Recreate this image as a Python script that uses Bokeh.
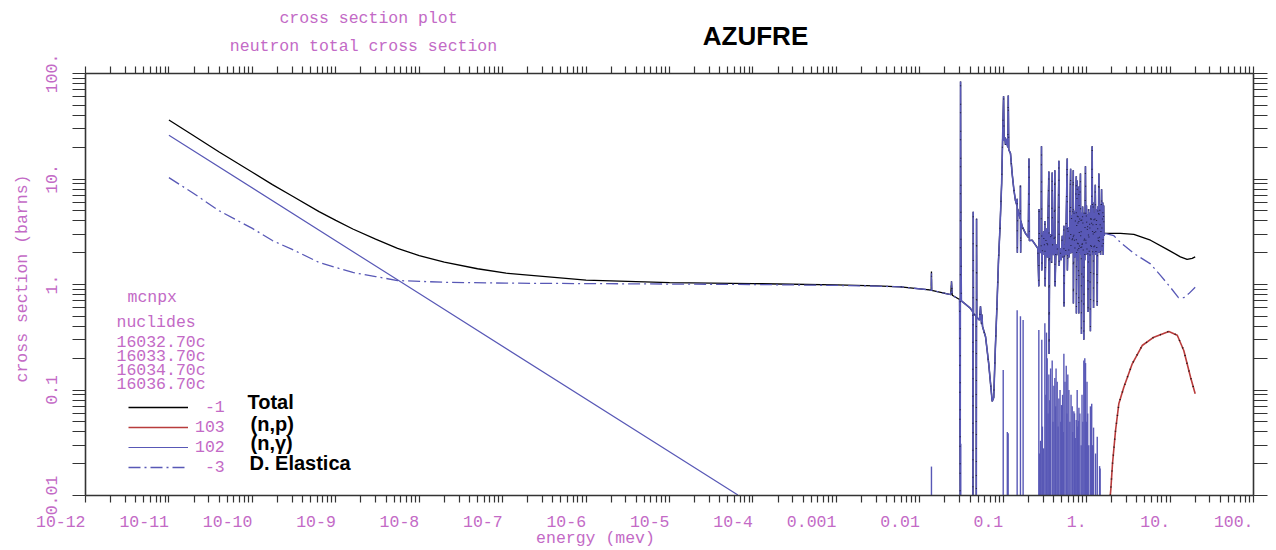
import math
from bokeh.plotting import figure
from bokeh.models import FixedTicker, LogAxis, Label, Legend, LegendItem, CustomJSTickFormatter
from bokeh.embed import file_html
from bokeh.resources import INLINE

# ---------------- data (energy in MeV, cross section in barns) ----------------
# smooth low-energy part of the total (-1) curve
total_low_E = [1e-11, 1.9e-11, 4e-11, 1e-10, 1.74e-10, 3e-10, 6.3e-10, 1e-9, 1.6e-9, 3e-9, 5.5e-9, 1e-8,
               2e-8, 5e-8, 1.1e-7, 1e-6, 1e-5, 1e-4, 1e-3, 3e-3]
total_low_xs = [36.3, 26.3, 18.0, 11.6, 8.84, 6.9, 4.9, 4.05, 3.36, 2.69, 2.2, 1.88,
                1.63, 1.41, 1.28, 1.1, 1.04, 1.02, 0.99, 0.97]
# smooth low-energy part of the elastic (-3) curve
elastic_low_E = [1e-11, 1.9e-11, 4e-11, 1e-10, 1.74e-10, 3e-10, 6.3e-10, 1e-9, 1.6e-9, 3e-9, 5.5e-9, 2e-8,
                 1.1e-7, 1e-6, 1e-5, 1e-4, 1e-3, 3e-3]
elastic_low_xs = [10.3, 7.45, 5.0, 3.4, 2.61, 2.15, 1.62, 1.45, 1.30, 1.19, 1.09, 1.05,
                  1.03, 1.02, 1.01, 1.0, 0.98, 0.965]
# resolved-resonance region, where the total and elastic curves coincide in the picture
res_E = [0.0059, 0.0130, 0.0137, 0.0138, 0.0139, 0.0235, 0.0240, 0.0245, 0.0300,
         0.0305, 0.0308, 0.0311, 0.0315, 0.0400,
         0.0432, 0.0434, 0.0437, 0.0440, 0.0474, 0.0476, 0.0479, 0.0482,
         0.0520, 0.0534, 0.0550, 0.0556, 0.0565,
         0.0614, 0.0669, 0.0738, 0.0770, 0.0803, 0.0841, 0.0878, 0.0917, 0.0958, 0.0985,
         0.1010, 0.1025, 0.1045, 0.1065, 0.1085, 0.1105, 0.1135, 0.1150, 0.1165, 0.1222, 0.1279, 0.1340, 0.1402,
         0.1460, 0.1469, 0.1478, 0.1490, 0.1538, 0.1600, 0.1609, 0.1618, 0.1630, 0.1686, 0.1849,
         0.2000, 0.2035, 0.2060, 0.2223, 0.2600, 0.2673, 0.2690, 0.2720,
         0.2850, 0.2876, 0.2900, 0.2960, 0.3050, 0.3100, 0.3156, 0.3180, 0.3250, 0.3320, 0.3380,
         0.3524, 0.3550, 0.3600, 0.3700, 0.3800, 0.3864, 0.3900, 0.4000, 0.4080,
         0.4158, 0.4180, 0.4300, 0.4400, 0.4550, 0.4646, 0.4680, 0.4800, 0.4950, 0.5100, 0.5200,
         0.5336, 0.5360, 0.5450, 0.5600, 0.5854, 0.5880, 0.6000, 0.6150, 0.6300,
         0.6425, 0.6450, 0.6600, 0.6750, 0.6915, 0.6940, 0.7050, 0.7200, 0.7350,
         0.7515, 0.7540, 0.7600, 0.7690, 0.7800, 0.7900, 0.8050, 0.8080, 0.8200, 0.8300,
         0.8430, 0.8500, 0.8580, 0.8670, 0.8750, 0.8850, 0.8950, 0.9100, 0.9250, 0.9350, 0.9500,
         0.9680, 0.9800, 0.9950, 1.0100, 1.0250, 1.0420, 1.0550, 1.0700, 1.0900,
         1.1100, 1.1250, 1.1400, 1.1650, 1.1800, 1.1950, 1.2100, 1.2250, 1.2450,
         1.2700, 1.2900, 1.3100, 1.3400, 1.3600, 1.3800, 1.4000, 1.4200, 1.4400, 1.4700,
         1.5100, 1.5300, 1.5600, 1.5800, 1.6000, 1.6100, 1.6500]
res_xs = [0.95, 0.89, 0.88, 1.33, 0.88, 0.80, 1.07, 0.79, 0.72,
          0.01, 84, 2.6, 0.70, 0.60,
          0.55, 0.01, 4.9, 0.53, 0.50, 0.01, 4.2, 0.49,
          0.46, 0.62, 0.42, 0.52, 0.40,
          0.32, 0.18, 0.078, 0.085, 0.237, 0.62, 1.69, 3.6, 9.1, 25,
          61, 23, 25, 21, 24, 22, 20, 62, 19, 17.5, 11.3, 8.0, 6.25,
          5.6, 6.5, 2.0, 5.2, 4.7, 4.2, 8.7, 2.0, 4.0, 3.55, 3.05,
          2.8, 15.6, 2.6, 2.63, 2.2, 0.96, 5.2, 2.1,
          2.0, 20.4, 1.36, 2.4, 3.2, 1.9, 4.0, 0.96, 2.6, 3.4, 1.8,
          11.8, 0.22, 2.2, 3.0, 1.6, 11.5, 2.4, 1.9, 2.8,
          12.1, 0.96, 2.4, 1.9, 2.6, 14.9, 1.5, 2.2, 1.7, 2.9, 1.8,
          3.6, 0.62, 2.4, 1.9, 15.6, 1.36, 3.5, 1.8, 4.2,
          12.5, 1.97, 4.5, 2.0, 12.1, 0.66, 5.0, 1.8, 4.6,
          10.6, 0.53, 3.5, 9.7, 1.7, 5.5, 0.53, 8.5, 2.0, 5.8,
          11.3, 1.9, 4.8, 0.34, 4.2, 1.8, 5.5, 2.2, 0.30, 4.8, 1.7,
          13.2, 1.9, 5.6, 2.0, 4.6, 0.55, 5.2, 1.8, 4.8,
          0.36, 5.6, 2.2, 20.4, 1.9, 6.0, 0.60, 4.8, 2.0,
          8.8, 1.9, 5.2, 0.63, 5.5, 2.0, 11.3, 2.0, 5.8, 1.9,
          8.0, 2.1, 6.0, 1.9, 5.6, 2.9, 3.05]
# smooth high-energy parts
total_high_E = [2.55, 3.68, 5.82, 9.23, 13.3, 16.0, 18.4, 20.0]
total_high_xs = [3.05, 2.98, 2.63, 2.15, 1.83, 1.73, 1.77, 1.83]
elastic_high_E = [2.12, 2.55, 3.68, 5.82, 7.67, 10.1, 12.6, 14.6, 16.8, 20.0]
elastic_high_xs = [2.9, 2.5, 1.97, 1.57, 1.22, 0.94, 0.75, 0.75, 0.82, 0.94]

# (n,gamma) 102: 1/v line down to the bottom axis, then resonance spikes rising from the axis
capture_E = [1e-11, 1e-8, 6.6e-5]
capture_xs = [26, 0.82, 0.0101]
capture_peak_E = [0.0138, 0.0310, 0.1000, 0.1120, 0.1146, 0.1469, 0.1609, 0.1732, 0.2673, 0.2720, 0.2799,
                  0.2900, 0.2950, 0.3050, 0.3156, 0.3250, 0.3300, 0.3365, 0.3450, 0.3524, 0.3600, 0.3700,
                  0.3864, 0.3950, 0.4050, 0.4158, 0.4250, 0.4300, 0.4437, 0.4550, 0.4646, 0.4800, 0.4900,
                  0.5003, 0.5150, 0.5250, 0.5336, 0.5500, 0.5693, 0.5800, 0.5950, 0.6128, 0.6300, 0.6500,
                  0.6713, 0.6800, 0.7030, 0.7150, 0.7300, 0.7500, 0.7700, 0.7800, 0.8000, 0.8080, 0.8300,
                  0.8600, 0.8800, 0.9000, 0.9250, 0.9500, 0.9700, 0.9900, 1.0100, 1.0300, 1.0600, 1.1100,
                  1.1500, 1.1800, 1.2100, 1.2800, 1.3400, 1.4300, 1.4500]
capture_peak_xs = [0.0188, 0.031, 0.155, 0.040, 0.039, 0.57, 0.50, 0.46, 0.37, 0.025, 0.033,
                   0.30, 0.045, 0.028, 0.43, 0.09, 0.35, 0.20, 0.06, 0.14, 0.08, 0.16,
                   0.19, 0.05, 0.11, 0.13, 0.07, 0.16, 0.12, 0.045, 0.083, 0.10, 0.05,
                   0.072, 0.09, 0.04, 0.22, 0.12, 0.17, 0.06, 0.14, 0.10, 0.05, 0.09,
                   0.070, 0.04, 0.063, 0.06, 0.035, 0.052, 0.10, 0.045, 0.051, 0.068, 0.06,
                   0.03, 0.09, 0.05, 0.19, 0.20, 0.18, 0.05, 0.12, 0.06, 0.03, 0.070,
                   0.074, 0.03, 0.044, 0.025, 0.036, 0.019, 0.018]
capture_floor = 0.01

# (n,p) 103
np_E = [1.92, 1.95, 2.04, 2.22, 2.43, 2.79, 3.52, 4.63, 6.39, 9.66, 12.2, 14.6, 17.6, 20.0]
np_xs = [0.01, 0.0115, 0.0199, 0.0413, 0.074, 0.106, 0.177, 0.264, 0.317, 0.359, 0.33, 0.237, 0.132, 0.092]

x_ticks = [1e-12, 1e-11, 1e-10, 1e-9, 1e-8, 1e-7, 1e-6, 1e-5, 1e-4, 1e-3, 1e-2, 1e-1, 1, 10, 100]
x_tick_labels = ["10-12", "10-11", "10-10", "10-9", "10-8", "10-7", "10-6", "10-5", "10-4",
                 "0.001", "0.01", "0.1", "1.", "10.", "100."]
y_ticks = [0.01, 0.1, 1, 10, 100]
y_tick_labels = ["0.01", "0.1", "1.", "10.", "100."]

legend_codes = ["\u00a0-1", "103", "102", "\u00a0-3"]
legend_names = ["Total", "(n,p)", "(n,\u03b3)", "D. Elastica"]
nuclides = ["16032.70c", "16033.70c", "16034.70c", "16036.70c"]

# ---------------- layout / styling ----------------
W, H = 1276, 550
PL, PR, PT, PB = 85, 1253, 73, 495      # plot box edges in page pixels
XMIN, XMAX = 1e-12, 100.0
YMIN, YMAX = 0.01, 100.0
PINK = "#c36ac6"
BLUE = "#5858b6"
RED = "#b83c3c"
AXC = "#333333"
MONO = "Liberation Mono"
MFS = "16.5px"

# the frame fills the page; the axes sit at fixed positions around the plot box
xdec = (PR - PL) / (math.log10(XMAX) - math.log10(XMIN))
ydec = (PB - PT) / (math.log10(YMAX) - math.log10(YMIN))
x_lo = 10 ** (math.log10(XMIN) - PL / xdec)
x_hi = 10 ** (math.log10(XMAX) + (W - PR) / xdec)
y_lo = 10 ** (math.log10(YMIN) - (H - PB) / ydec)
y_hi = 10 ** (math.log10(YMAX) + PT / ydec)

def fy(ypx):
    return H - ypx

p = figure(width=W, height=H, x_axis_type="log", y_axis_type="log",
           x_range=(x_lo, x_hi), y_range=(y_lo, y_hi),
           x_axis_location=None, y_axis_location=None,
           output_backend="svg", toolbar_location=None, min_border=0)
p.title.visible = False
p.outline_line_color = None
p.xgrid.visible = False
p.ygrid.visible = False
p.background_fill_color = "white"
p.border_fill_color = "white"

x_minor = [m * 10.0 ** k for k in range(-12, 2) for m in range(2, 10)]
y_minor = [m * 10.0 ** k for k in range(-2, 2) for m in range(2, 10)]

axes = [
    (LogAxis(fixed_location=YMIN, bounds=(XMIN, XMAX)), "below", x_ticks, x_minor, 7),
    (LogAxis(fixed_location=YMAX, bounds=(XMIN, XMAX)), "above", x_ticks, x_minor, 7),
    (LogAxis(fixed_location=XMIN, bounds=(YMIN, YMAX)), "left", y_ticks, y_minor, 13),
    (LogAxis(fixed_location=XMAX, bounds=(YMIN, YMAX)), "right", y_ticks, y_minor, 14),
]
for ax, side, ticks, minor, tl in axes:
    ax.ticker = FixedTicker(ticks=ticks, minor_ticks=minor)
    ax.formatter = CustomJSTickFormatter(code="return ''")
    ax.major_label_text_font_size = "0px"
    ax.major_label_text_color = None
    ax.axis_line_color = AXC
    ax.axis_line_width = 1.6
    ax.major_tick_line_color = AXC
    ax.minor_tick_line_color = AXC
    ax.major_tick_line_width = 1.2
    ax.minor_tick_line_width = 1.2
    ax.major_tick_in = 0
    ax.minor_tick_in = 0
    ax.major_tick_out = tl
    ax.minor_tick_out = tl
    p.add_layout(ax, side)

# ---------------- curves ----------------
tot_E = total_low_E + res_E + total_high_E
tot_xs = total_low_xs + res_xs + total_high_xs
el_E = elastic_low_E + res_E + elastic_high_E
el_xs = elastic_low_xs + res_xs + elastic_high_xs

r_tot = p.line(tot_E, tot_xs, line_color="black", line_width=1.3)
r_np = p.line(np_E, np_xs, line_color=RED, line_width=1.6)
p.line(np_E, np_xs, line_color="black", line_width=1.6, line_dash="1 7", line_alpha=0.8)
r_cap = p.line(capture_E, capture_xs, line_color=BLUE, line_width=1.2)
p.segment(x0=capture_peak_E, y0=[capture_floor] * len(capture_peak_E), x1=capture_peak_E, y1=capture_peak_xs,
          line_color=BLUE, line_width=1.4)

lo = [i for i, e in enumerate(el_E) if e <= 0.0300]
mid = [i for i, e in enumerate(el_E) if 0.0300 <= e <= 1.65]
hi = [i for i, e in enumerate(el_E) if e >= 1.65]
r_el = p.line([el_E[i] for i in lo], [el_xs[i] for i in lo], line_color=BLUE, line_width=1.3,
              line_dash="12 4 2 4")
p.line([el_E[i] for i in mid], [el_xs[i] for i in mid], line_color=BLUE, line_width=1.6)
p.line([el_E[i] for i in hi], [el_xs[i] for i in hi], line_color=BLUE, line_width=1.3,
       line_dash="12 4 2 4")
# sparse black dots of the total drawn over the resonance region, as in the picture
p.line(res_E, res_xs, line_color="black", line_width=1.2, line_dash="1 26", line_alpha=0.6)

# ---------------- legend ----------------
legend = Legend(items=[LegendItem(label=c, renderers=[r]) for c, r in zip(legend_codes, [r_tot, r_np, r_cap, r_el])],
                location=(128, fy(477)), glyph_width=60, glyph_height=20, label_height=20, label_standoff=7,
                spacing=0, padding=0, margin=0, border_line_color=None, background_fill_alpha=0,
                label_text_font=MONO, label_text_font_size=MFS, label_text_color=PINK)
p.add_layout(legend)

for name, ypx, xpx in zip(legend_names, [401, 423, 442, 462], [247, 250, 250, 249]):
    p.add_layout(Label(x=xpx, y=fy(ypx), x_units="screen", y_units="screen", text=name,
                       text_font="Liberation Sans", text_font_style="bold", text_font_size="20px",
                       text_color="black", text_align="left", text_baseline="middle"))

# ---------------- texts ----------------
def mono(text, xpx, ypx, align="left", angle=0.0):
    p.add_layout(Label(x=xpx, y=fy(ypx), x_units="screen", y_units="screen", text=text, angle=angle,
                       text_font=MONO, text_font_size=MFS, text_color=PINK,
                       text_align=align, text_baseline="middle"))

mono("cross section plot", 368, 18, "center")
mono("neutron total cross section", 363, 46, "center")
mono("energy (mev)", 595, 538, "center")
mono("cross section (barns)", 22, 278, "center", math.pi / 2)
mono("mcnpx", 127, 297)
mono("nuclides", 116, 322)
for t, ypx in zip(nuclides, [342, 356, 370, 384]):
    mono(t, 116, ypx)

p.add_layout(Label(x=755, y=fy(35), x_units="screen", y_units="screen", text="AZUFRE",
                   text_font="Liberation Sans", text_font_style="bold", text_font_size="26px",
                   text_color="black", text_align="center", text_baseline="middle"))

for v, t in zip(x_ticks, x_tick_labels):
    p.add_layout(Label(x=v, y=fy(521), x_units="data", y_units="screen", text=t,
                       text_font=MONO, text_font_size=MFS, text_color=PINK,
                       text_align="right", text_baseline="middle"))
for v, t in zip(y_ticks, y_tick_labels):
    p.add_layout(Label(x=51, y=v, x_units="screen", y_units="data", text=t, angle=math.pi / 2,
                       text_font=MONO, text_font_size=MFS, text_color=PINK,
                       text_align="center", text_baseline="middle"))

open("out.html", "w").write(file_html(p, INLINE))
